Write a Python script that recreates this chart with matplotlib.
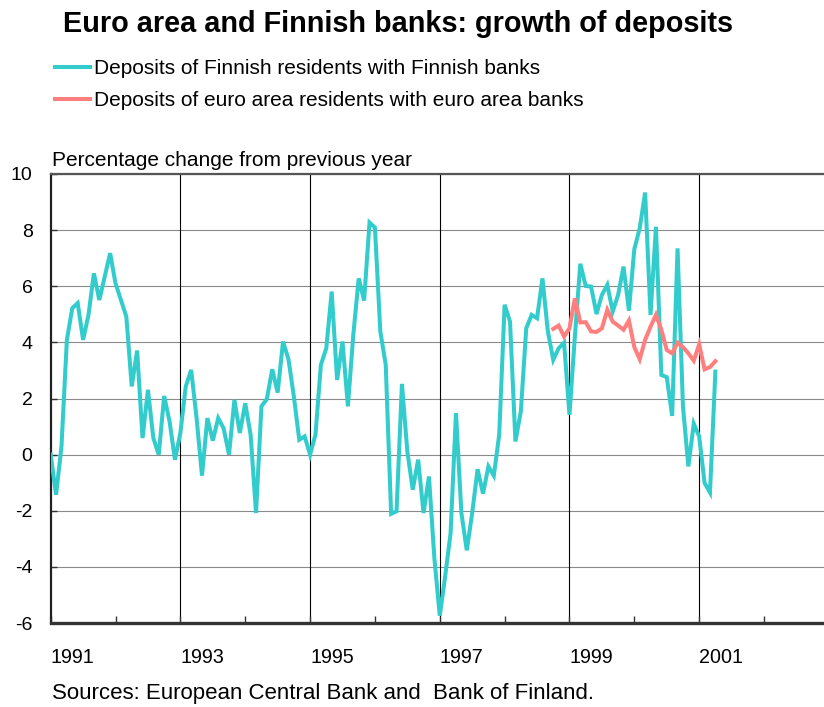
import numpy as np
import matplotlib
matplotlib.use("Agg")
import matplotlib.pyplot as plt

plt.rcParams['font.family'] = ['Liberation Sans', 'DejaVu Sans']

# monthly growth rates, % change from previous year, starting January 1991
finnish = [0.0, -1.43, 0.29, 4.09, 5.22, 5.4, 4.09, 4.98, 6.46, 5.51, 6.34, 7.18,
           6.1, 5.51, 4.92, 2.43, 3.71, 0.59, 2.31, 0.59, 0.0, 2.09, 1.18, -0.18,
           0.77, 2.43, 3.02, 1.3, -0.75, 1.3, 0.5, 1.3, 0.94, 0.0, 1.95, 0.77,
           1.83, 0.71, -2.08, 1.72, 1.98, 3.04, 2.21, 4.03, 3.4, 2.07, 0.53, 0.65,
           0.0, 0.71, 3.2, 3.79, 5.81, 2.66, 4.03, 1.72, 4.27, 6.28, 5.49, 8.27,
           8.09, 4.39, 3.2, -2.11, -2.02, 2.52, 0.11, -1.25, -0.18, -2.08, -0.78, -3.69,
           -5.74, -4.34, -2.8, 1.48, -2.08, -3.41, -2.08, -0.52, -1.39, -0.42, -0.75, 0.71,
           5.34, 4.74, 0.47, 1.54, 4.5, 4.98, 4.86, 6.28, 4.39, 3.38, 3.79, 3.99,
           1.42, 4.21, 6.8, 6.01, 5.99, 5.01, 5.69, 6.05, 5.1, 5.69, 6.7, 5.13,
           7.32, 8.07, 9.34, 4.98, 8.12, 2.84, 2.76, 1.38, 7.35, 1.72, -0.42, 1.1,
           0.65, -1.01, -1.35, 2.96]

# euro area series starts October 1998
euro_start = 93
euro = [4.48, 4.6, 4.21,
        4.5, 5.57, 4.71, 4.72, 4.39, 4.37, 4.5, 5.16, 4.74, 4.6, 4.45, 4.78,
        3.83, 3.4, 4.09, 4.56, 4.98, 4.45, 3.73, 3.61, 3.99, 3.83, 3.61, 3.35,
        3.93, 3.04, 3.12, 3.33]

labels = ["Deposits of Finnish residents with Finnish banks",
          "Deposits of euro area residents with euro area banks"]
year_labels = ["1991", "1993", "1995", "1997", "1999", "2001"]

teal = "#33CCCC"
salmon = "#FF7F7F"

x_fin = 1991 + np.arange(len(finnish)) / 12.0
x_euro = 1991 + (euro_start + np.arange(len(euro))) / 12.0

fig = plt.figure(figsize=(8.24, 7.07), dpi=100)
ax = fig.add_axes([50.67/824, 84/707, 1 - 50.67/824, 449/707])

# grid
for y in range(-6, 11, 2):
    ax.axhline(y, color="#8a8a8a", lw=0.8, zorder=1)
for yr in [1993, 1995, 1997, 1999, 2001]:
    ax.axvline(yr, color="black", lw=0.8, zorder=1)

l1, = ax.plot(x_fin, finnish, color=teal, lw=2.9, zorder=3, solid_joinstyle="miter")
l2, = ax.plot(x_euro, euro, color=salmon, lw=2.9, zorder=4, solid_joinstyle="miter")

ax.set_xlim(1991, 1991 + (824 - 50.67) / 64.85)
ax.set_ylim(-6, 10)

ax.set_yticks(range(-6, 11, 2))
ax.set_yticklabels([str(v) for v in range(-6, 11, 2)], fontsize=14)
ax.set_xticks(range(1991, 2003))
xt = []
for yr in range(1991, 2003):
    xt.append(str(yr) if str(yr) in year_labels else "")
ax.set_xticklabels(xt, fontsize=14.2, ha="left")
ax.tick_params(axis="x", direction="in", length=5, width=1, pad=18, color="#333333")
ax.tick_params(axis="y", direction="in", length=4, width=1, pad=13, color="#333333")

ax.spines["right"].set_visible(False)
ax.spines["left"].set_linewidth(1.6)
ax.spines["left"].set_color("#222222")
ax.spines["bottom"].set_linewidth(2.4)
ax.spines["bottom"].set_color("#333333")
ax.spines["top"].set_linewidth(1.6)
ax.spines["top"].set_color("#555555")

fig.text(63/824, 1 - 32/707, "Euro area and Finnish banks: growth of deposits",
         fontsize=20.8, fontweight="bold", ha="left", va="baseline")

fig.legend([l1, l2], labels, loc="upper left", bbox_to_anchor=(55/824, 1 - 59/707),
           frameon=False, fontsize=15, handlelength=1.7, handletextpad=0.15,
           borderpad=0, borderaxespad=0, labelspacing=0.64)

fig.text(52/824, 1 - 166/707, "Percentage change from previous year",
         fontsize=15, ha="left", va="baseline")
fig.text(52/824, 1 - 693/707, "Sources: European Central Bank and  Bank of Finland.",
         fontsize=16, ha="left", va="center")

fig.savefig("out.png", dpi=100)
